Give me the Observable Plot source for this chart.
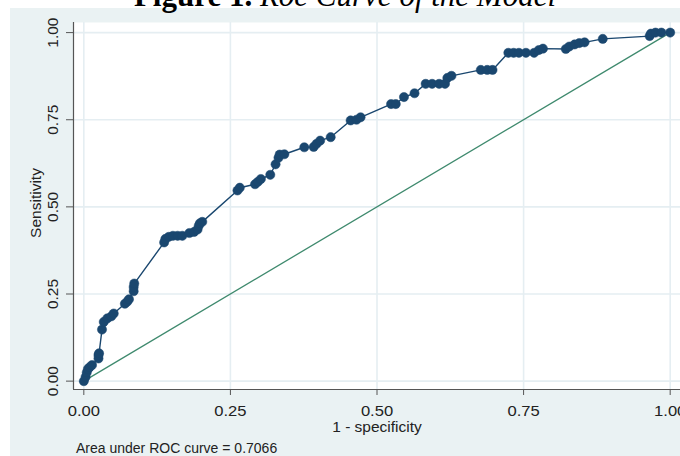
<!DOCTYPE html>
<html><head><meta charset="utf-8">
<script src="https://cdn.jsdelivr.net/npm/d3@7"></script>
<script src="https://cdn.jsdelivr.net/npm/@observablehq/plot@0.6"></script>
<style>
html,body{margin:0;padding:0;background:#fff;}
#wrap{position:relative;width:680px;height:456px;overflow:hidden;background:#fff;font-family:"Liberation Sans",Arial,sans-serif;}
#bg{position:absolute;left:10px;top:8px;width:670px;height:448px;background:#eaf2f3;}
#title{position:absolute;left:5px;width:680px;text-align:center;top:-20px;font-family:"Liberation Serif","Times New Roman",serif;font-size:31px;line-height:31px;white-space:nowrap;color:#000;}
#chart{position:absolute;left:0;top:0;}
#caption{position:absolute;left:76px;top:441px;font-size:14px;line-height:14px;color:#222;white-space:nowrap;}
</style></head>
<body>
<div id="wrap">
<div id="bg"></div>
<div id="title"><b>Figure 1.</b> <i>Roc Curve of the Model</i></div>
<div id="chart"></div>
<div id="caption">Area under ROC curve = 0.7066</div>
</div>
<script>
// ROC curve points: 1 - specificity (fpr) and sensitivity (tpr)
const fpr = [0, 0.003, 0.005, 0.007, 0.01, 0.014, 0.025, 0.025, 0.026, 0.031, 0.034, 0.04, 0.047, 0.051,
  0.07, 0.074, 0.077, 0.085, 0.085, 0.086, 0.137, 0.139, 0.145, 0.152, 0.16, 0.168, 0.18, 0.188, 0.194,
  0.196, 0.198, 0.202, 0.262, 0.266, 0.292, 0.297, 0.302, 0.318, 0.327, 0.332, 0.334, 0.342, 0.376,
  0.392, 0.397, 0.403, 0.421, 0.455, 0.465, 0.472, 0.524, 0.532, 0.546, 0.564, 0.583, 0.594, 0.606,
  0.616, 0.62, 0.627, 0.677, 0.688, 0.697, 0.724, 0.733, 0.742, 0.754, 0.768, 0.776, 0.783, 0.822,
  0.828, 0.837, 0.845, 0.854, 0.885, 0.965, 0.967, 0.975, 0.985, 1.0];
const tpr = [0, 0.012, 0.025, 0.035, 0.04, 0.046, 0.065, 0.075, 0.08, 0.148, 0.17, 0.18, 0.186, 0.194,
  0.222, 0.228, 0.235, 0.258, 0.27, 0.28, 0.398, 0.408, 0.414, 0.417, 0.417, 0.417, 0.425, 0.428, 0.435,
  0.446, 0.453, 0.457, 0.547, 0.555, 0.565, 0.572, 0.58, 0.592, 0.622, 0.641, 0.65, 0.651, 0.671,
  0.672, 0.681, 0.69, 0.70, 0.748, 0.75, 0.757, 0.795, 0.795, 0.815, 0.826, 0.853, 0.853, 0.853,
  0.853, 0.87, 0.876, 0.893, 0.893, 0.893, 0.942, 0.942, 0.942, 0.942, 0.942, 0.95, 0.954, 0.953,
  0.96, 0.966, 0.97, 0.972, 0.982, 0.99, 0.997, 1.0, 1.0, 1.0];
const refLine = [0, 1];
const tickValues = [0, 0.25, 0.5, 0.75, 1];
const tickLabels = ["0.00", "0.25", "0.50", "0.75", "1.00"];
const xTitle = "1 - specificity";
const yTitle = "Sensitivity";

const points = fpr.map((x, i) => ({x, y: tpr[i]}));
const ref = refLine.map(v => ({x: v, y: v}));
const xDomain = [-0.0176, 1.0176];
const yDomain = [-0.024, 1.029];
const navy = "#1a476f";
const axisCol = "#555";
const gridCol = "#e5eef2";
const lab = d => tickLabels[tickValues.indexOf(d)];

const chart = Plot.plot({
  width: 680, height: 456,
  marginLeft: 73, marginRight: 0, marginTop: 22, marginBottom: 67,
  style: {background: "transparent", fontFamily: "'Liberation Sans', Arial, sans-serif", fontSize: "15.5px", color: "#222"},
  x: {domain: xDomain, label: null},
  y: {domain: yDomain, label: null},
  marks: [
    Plot.frame({fill: "white", stroke: null}),
    Plot.gridX(tickValues, {stroke: gridCol, strokeOpacity: 1, strokeWidth: 1.6}),
    Plot.gridY(tickValues, {stroke: gridCol, strokeOpacity: 1, strokeWidth: 1.6}),
    Plot.line(ref, {x: "x", y: "y", stroke: "#3f8a6e", strokeWidth: 1.3}),
    Plot.line(points, {x: "x", y: "y", stroke: navy, strokeWidth: 1.4}),
    Plot.dot(points, {x: "x", y: "y", r: 4.6, fill: navy, stroke: navy, strokeWidth: 0.5}),
    Plot.ruleX([xDomain[0]], {stroke: axisCol, strokeWidth: 1.2}),
    Plot.ruleY([yDomain[0]], {stroke: axisCol, strokeWidth: 1.2}),
    Plot.axisX(tickValues, {tickFormat: lab, tickSize: 6, tickPadding: 9, stroke: axisCol, fill: "#222", fontSize: 15.5, label: null}),
    Plot.axisY(tickValues, {tickFormat: () => "", tickSize: 7, stroke: axisCol, label: null}),
    Plot.text(tickValues, {y: d => d, text: lab, frameAnchor: "left", rotate: -90, dx: -20, textAnchor: "middle", lineAnchor: "middle", fill: "#222", fontSize: 15.5, ariaLabel: "ytick"}),
    Plot.text([xTitle], {x: () => 0.5, text: d => d, frameAnchor: "bottom", dy: 38, textAnchor: "middle", lineAnchor: "middle", fill: "#222", fontSize: 15.5, ariaLabel: "xtitle"}),
    Plot.text([yTitle], {text: d => d, frameAnchor: "left", rotate: -90, dx: -37, dy: -3, textAnchor: "middle", lineAnchor: "middle", fill: "#222", fontSize: 15.5, ariaLabel: "ytitle"})
  ]
});
document.getElementById("chart").appendChild(chart);

function stretch(sel, factor) {
  chart.querySelectorAll(sel).forEach(t => {
    if (!t.textContent) return;
    const L = t.getComputedTextLength();
    t.setAttribute("textLength", (L * factor).toFixed(2));
    t.setAttribute("lengthAdjust", "spacingAndGlyphs");
  });
}
stretch('g[aria-label="x-axis tick label"] text', 1.07);
stretch('g[aria-label="xtitle"] text', 1.06);
stretch('g[aria-label="ytick"] text', 0.86);
stretch('g[aria-label="ytitle"] text', 0.87);
</script>
</body></html>
